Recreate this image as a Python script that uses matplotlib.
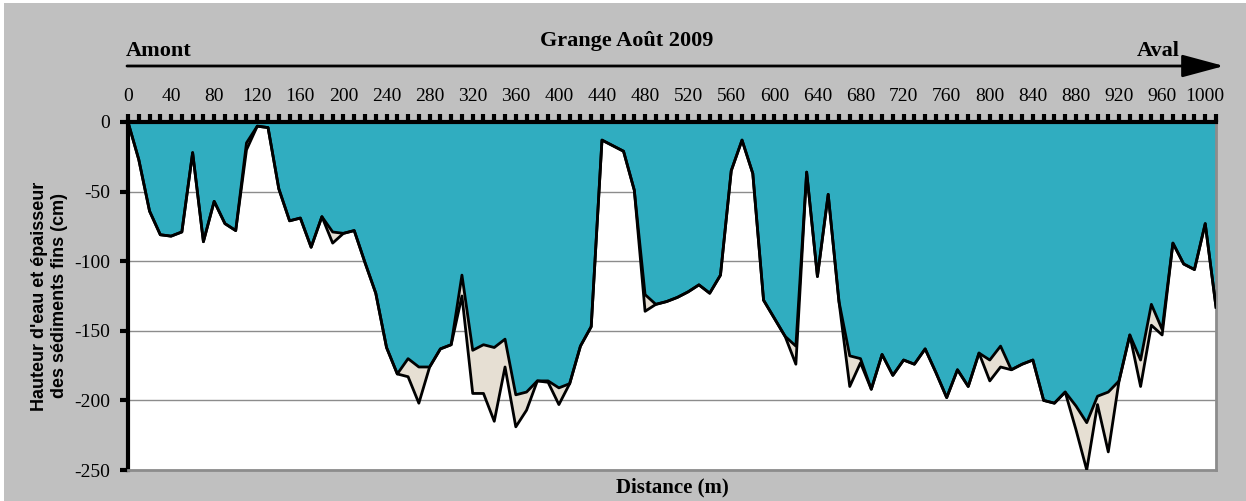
import matplotlib
matplotlib.use("Agg")
import matplotlib.pyplot as plt
from matplotlib.patches import Rectangle

plt.rcParams['axes.unicode_minus'] = False

# === Data read from the profile (distance in m, depth in cm)
distance = [0, 10, 20, 30, 40, 50, 60, 70, 80, 90, 100, 110, 120, 130, 140, 150,
            160, 170, 180, 190, 200, 210, 220, 230, 240, 250, 260, 270, 280, 290,
            300, 310, 320, 330, 340, 350, 360, 370, 380, 390, 400, 410, 420, 430,
            440, 460, 470, 480, 490, 500, 510, 520, 530, 540, 550, 560, 570, 580,
            590, 600, 610, 620, 630, 640, 650, 660, 670, 680, 690, 700, 710, 720,
            730, 740, 750, 760, 770, 780, 790, 800, 810, 820, 830, 840, 850, 860,
            870, 880, 890, 900, 910, 920, 930, 940, 950, 960, 970, 980, 990, 1000,
            1010]

water = [0, -27, -64, -81, -82, -79, -22, -86, -57, -73, -78, -15, -3, -4, -48, -71,
         -69, -90, -68, -79, -80, -78, -101, -123, -162, -181, -170, -176, -176, -163,
         -160, -110, -164, -160, -162, -156, -196, -194, -186, -186, -191, -188, -161, -147,
         -13, -21, -49, -124, -131, -129, -126, -122, -117, -123, -110, -35, -13, -37,
         -128, -141, -154, -161, -36, -111, -52, -129, -168, -170, -192, -167, -182, -171,
         -174, -163, -180, -198, -178, -190, -166, -171, -161, -178, -174, -171, -200, -202,
         -194, -204, -216, -197, -194, -186, -153, -171, -131, -149, -87, -102, -106, -73,
         -133]

sediment = [0, -27, -64, -81, -82, -79, -22, -86, -57, -73, -78, -20, -3, -4, -48, -71,
            -69, -90, -68, -87, -80, -78, -101, -123, -162, -181, -183, -202, -176, -163,
            -160, -125, -195, -195, -215, -176, -219, -207, -186, -187, -203, -188, -161, -147,
            -13, -21, -49, -136, -131, -129, -126, -122, -117, -123, -110, -35, -13, -37,
            -128, -141, -154, -174, -36, -111, -52, -129, -190, -173, -192, -167, -182, -171,
            -174, -163, -180, -198, -178, -190, -166, -186, -176, -178, -174, -171, -200, -202,
            -194, -221, -250, -203, -237, -186, -153, -190, -146, -153, -87, -102, -106, -73,
            -133]

xtick_values = list(range(0, 1001, 40))
ytick_values = [0, -50, -100, -150, -200, -250]

teal = "#30adc0"
beige = "#e6dfd3"
serif = "Liberation Serif"

W, H = 1246, 501
fig = plt.figure(figsize=(W / 100, H / 100), dpi=100, facecolor="white")
fig.patches.append(Rectangle((4 / W, 0), 1 - 4 / W, 1 - 3 / H, transform=fig.transFigure,
                             facecolor="#c0c0c0", edgecolor="none", zorder=-10))

ax = fig.add_axes([128 / W, 1 - 470 / H, (1216 - 128) / W, (470 - 122) / H])
ax.set_facecolor("white")

ax.fill_between(distance, 0, water, color=teal, lw=0, zorder=2)
ax.fill_between(distance, water, sediment, color=beige, lw=0, zorder=2)
ax.plot(distance, sediment, color="black", lw=2, zorder=3)
ax.plot(distance, water, color="black", lw=2, zorder=3)

ax.set_xlim(0, 1010)
ax.set_ylim(-250, 0)

# top axis with a tick every 10 m
ax.xaxis.tick_top()
ax.set_xticks(xtick_values)
ax.set_xticklabels([str(v) for v in xtick_values], fontfamily=serif, fontsize=14)
ax.set_xticks(range(0, 1011, 10), minor=True)
ax.tick_params(axis="x", which="both", length=6, width=3, color="black", pad=6)

ax.set_yticks(ytick_values)
ax.set_yticklabels([str(v) for v in ytick_values], fontfamily=serif, fontsize=14)
ax.tick_params(axis="y", length=6, width=3, color="black", pad=7)

ax.yaxis.grid(True, color="#8c8c8c", lw=1)
ax.set_axisbelow(True)

for side in ["left", "top"]:
    ax.spines[side].set_linewidth(3)
    ax.spines[side].set_color("black")
for side in ["right", "bottom"]:
    ax.spines[side].set_linewidth(2)
    ax.spines[side].set_color("#8c8c8c")

ax.set_ylabel("Hauteur d'eau et épaisseur\ndes sédiments fins (cm)", fontfamily="Liberation Sans",
              fontsize=13, fontweight="bold")
ax.yaxis.set_label_coords((68 - 128) / (1216 - 128), 0.5)

fig.text(627 / W, 1 - 41 / H, "Grange Août 2009", ha="center", va="center",
         fontfamily=serif, fontsize=16, fontweight="bold")
fig.text(126 / W, 1 - 51 / H, "Amont", ha="left", va="center",
         fontfamily=serif, fontsize=16, fontweight="bold")
fig.text(1180 / W, 1 - 51 / H, "Aval", ha="right", va="center",
         fontfamily=serif, fontsize=16, fontweight="bold")
fig.text(672 / W, 1 - 487 / H, "Distance (m)", ha="center", va="center",
         fontfamily=serif, fontsize=15, fontweight="bold")

ax.annotate("", xy=(1224 / W, 1 - 66 / H), xytext=(127 / W, 1 - 66 / H),
            xycoords="figure fraction", textcoords="figure fraction",
            arrowprops=dict(arrowstyle="-|>,head_length=1.3,head_width=0.35",
                            lw=2, color="black", mutation_scale=20, shrinkA=0, shrinkB=0))

fig.savefig("out.png", dpi=100, facecolor=fig.get_facecolor())
